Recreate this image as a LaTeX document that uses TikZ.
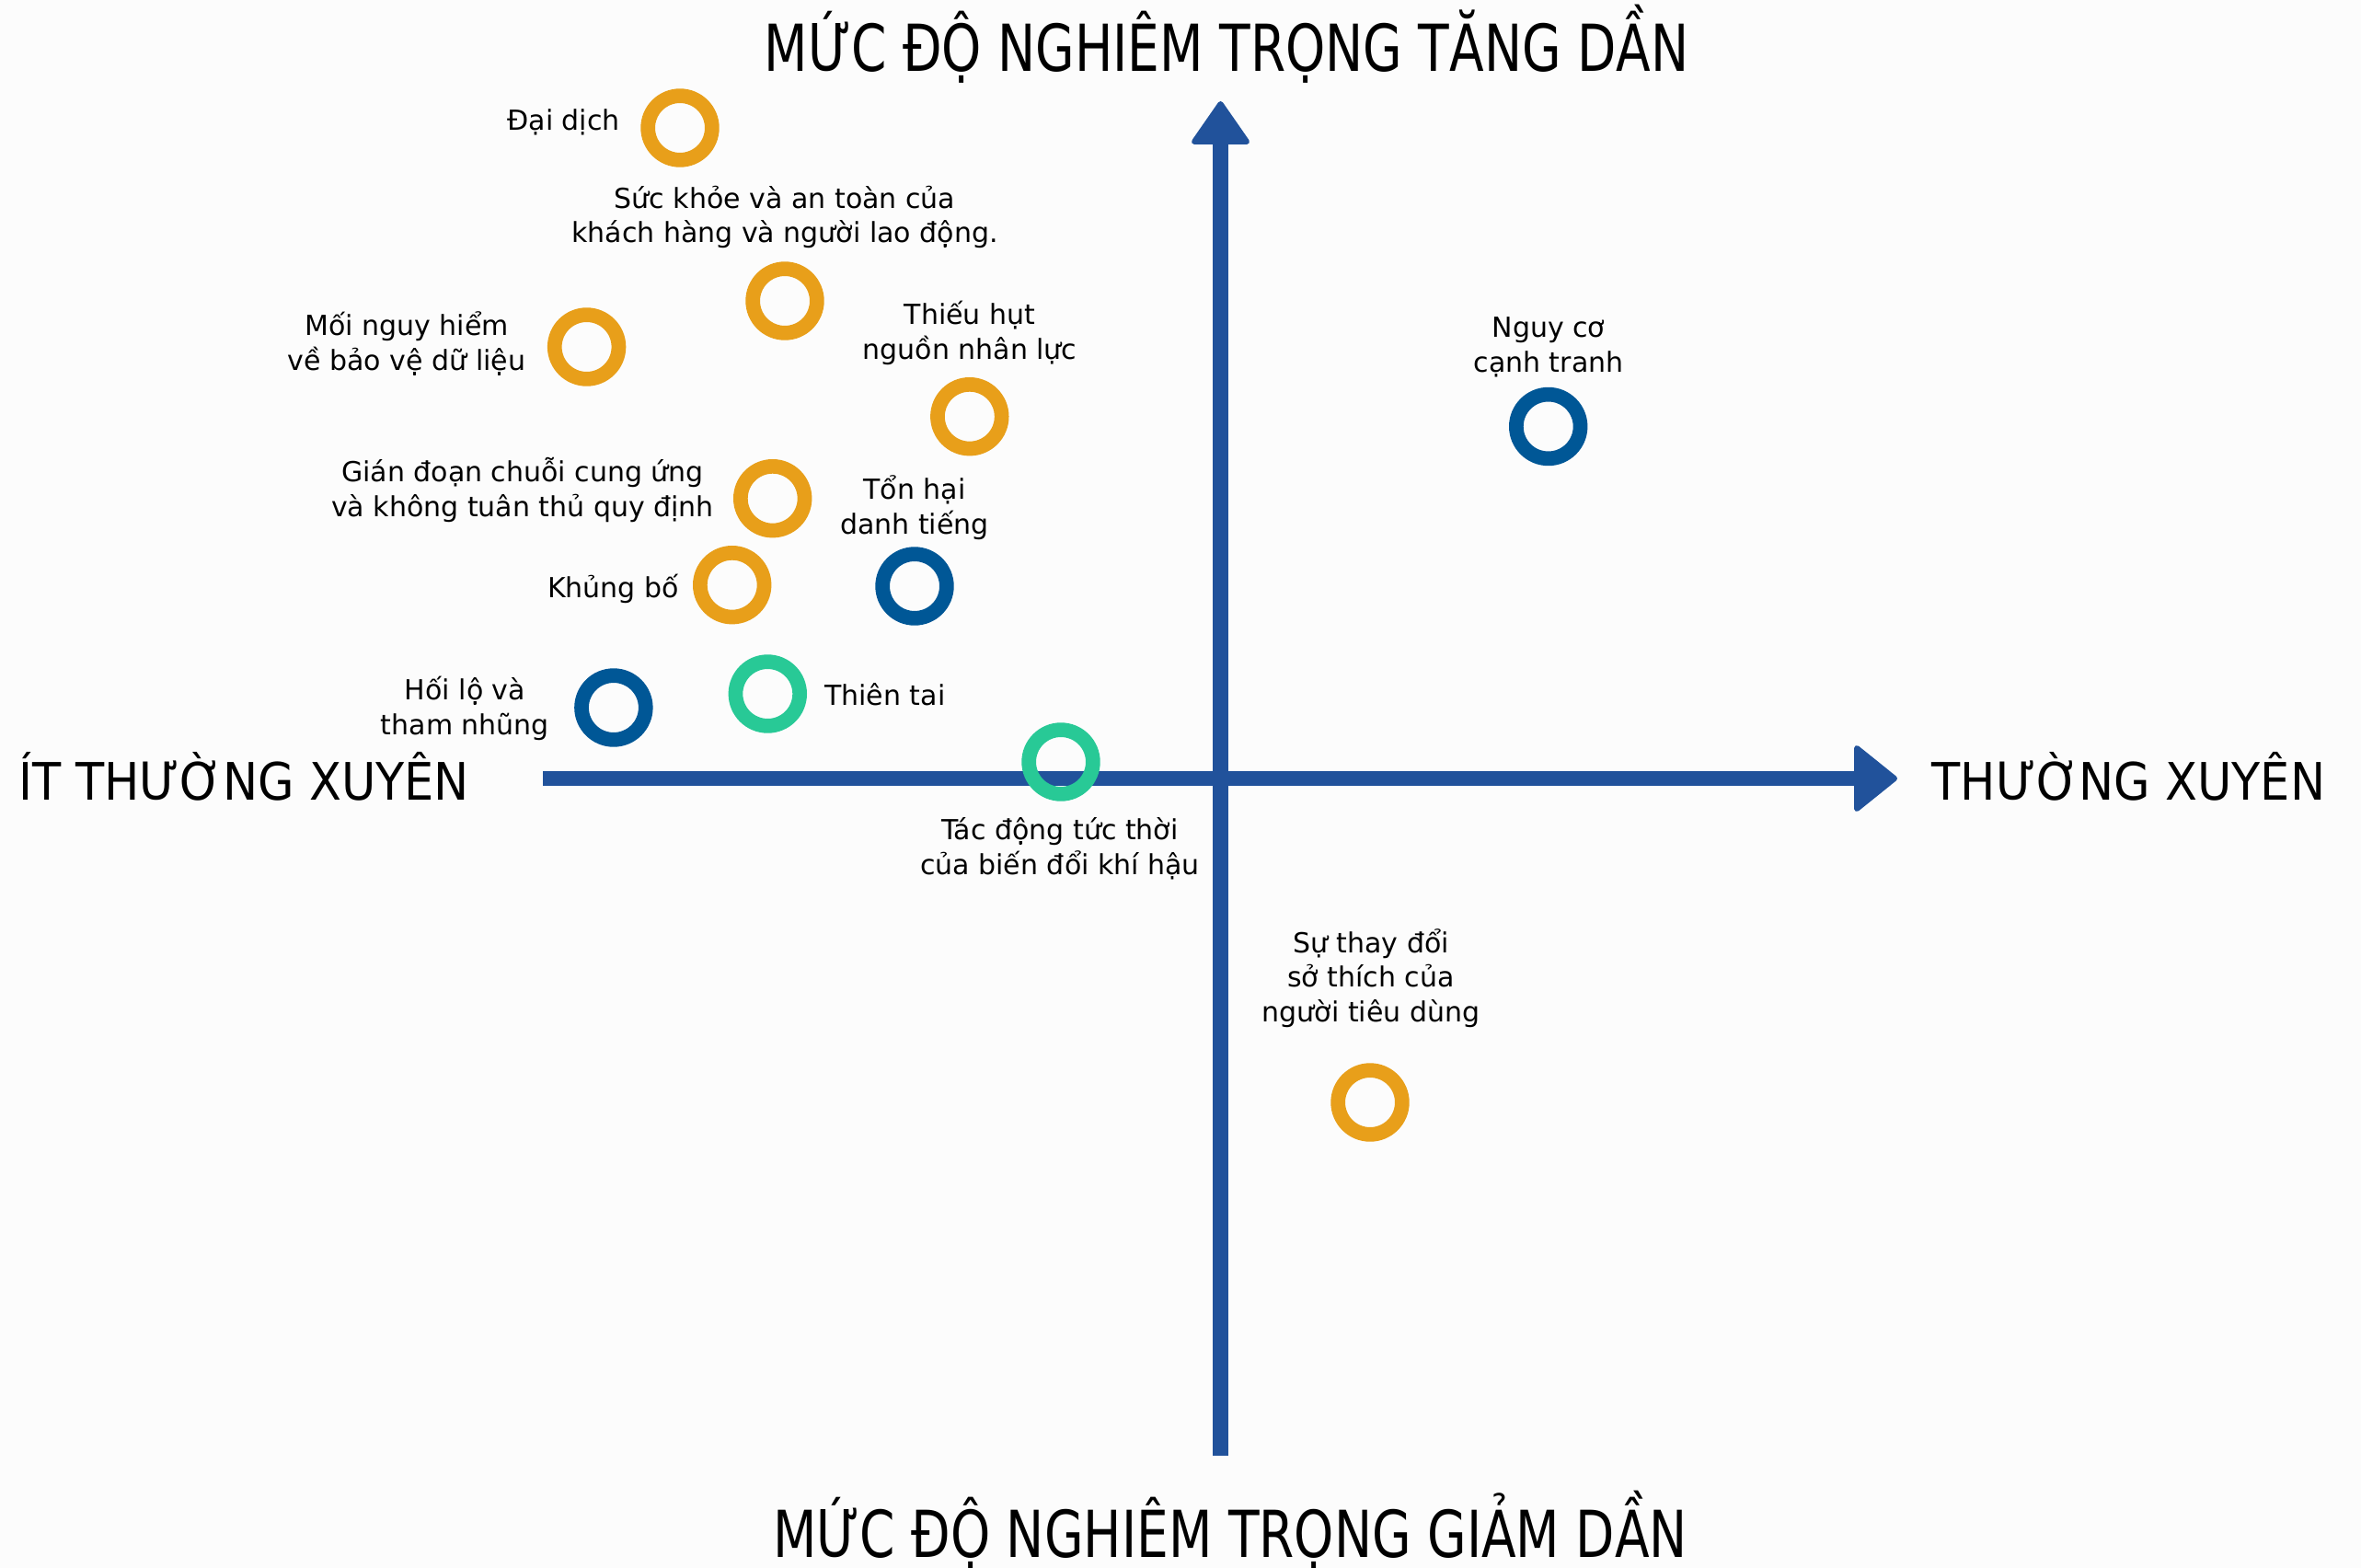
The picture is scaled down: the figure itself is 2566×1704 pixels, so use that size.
\documentclass[tikz,border=0pt]{standalone}
\usepackage{fontspec}
\setmainfont{DejaVu Sans}
\usepackage{graphicx}
\definecolor{bgcol}{RGB}{252,252,252}
\definecolor{axiscol}{RGB}{33,82,155}
\definecolor{ringorange}{RGB}{232,159,26}
\definecolor{ringblue}{RGB}{0,87,150}
\definecolor{ringgreen}{RGB}{40,201,150}
\begin{document}
\begin{tikzpicture}[x=1pt,y=-1pt,
  ring/.style={circle, draw=#1, line width=15.7pt, minimum size=69.7pt, inner sep=0pt, outer sep=0pt},
  lbl/.style={font=\fontsize{30}{37.5}\selectfont, inner sep=0pt, align=center, text=black},
  sidelbl/.style={font=\fontsize{51}{60}\selectfont, inner sep=0pt, text=black},
  titlelbl/.style={font=\fontsize{55}{60}\selectfont, inner sep=0pt, text=black},
  axisline/.style={draw=axiscol, line width=16.5pt, line cap=butt},
  axishead/.style={fill=axiscol, draw=axiscol, line width=6pt, line join=round}
]
\fill[bgcol] (0,0) rectangle (2566,1704);
\useasboundingbox (0,0) rectangle (2566,1704);

% axes
\coordinate (xL) at (590,846);
\coordinate (xR) at (2020,846);
\coordinate (yB) at (1326.5,1582);
\coordinate (yT) at (1326.5,150);
\draw[axisline] (xL) -- (xR);
\draw[axisline] (yB) -- (yT);
\filldraw[axishead] (2018,813) -- (2059,846) -- (2018,879) -- cycle;
\filldraw[axishead] (1298,154) -- (1326.5,113) -- (1355,154) -- cycle;

% axis titles
\node[titlelbl, anchor=base] (ttop) at (1333,78) {\scalebox{1}[1.28]{MỨC ĐỘ NGHIÊM TRỌNG TĂNG DẦN}};
\node[titlelbl, anchor=base] (tbot) at (1337,1692) {\scalebox{1}[1.28]{MỨC ĐỘ NGHIÊM TRỌNG GIẢM DẦN}};
\node[sidelbl, anchor=base] (tleft) at (265,869) {\scalebox{1}[1.1]{ÍT THƯỜNG XUYÊN}};
\node[sidelbl, anchor=base] (tright) at (2313.5,869) {\scalebox{1}[1.1]{THƯỜNG XUYÊN}};

% rings
\node[ring=ringorange] (cdai) at (739,139) {};
\node[ring=ringorange] (csuc) at (853,327) {};
\node[ring=ringorange] (cmoi) at (637.6,377) {};
\node[ring=ringorange] (cthieu) at (1053.8,452.7) {};
\node[ring=ringblue] (cnguy) at (1682.7,463.5) {};
\node[ring=ringorange] (cgian) at (839.7,541.7) {};
\node[ring=ringorange] (ckhung) at (795.7,635.7) {};
\node[ring=ringblue] (cton) at (994,637) {};
\node[ring=ringgreen] (cthien) at (834.3,754) {};
\node[ring=ringblue] (choi) at (666.9,769) {};
\node[ring=ringgreen] (ctac) at (1153,828) {};
\node[ring=ringorange] (csu) at (1489,1198) {};

% labels (base anchor = baseline of the last line)
\node[lbl, anchor=base east] (ldai) at (674,142) {Đại dịch};
\node[lbl, anchor=base] (lsuc) at (853,264) {Sức khỏe và an toàn của\\khách hàng và người lao động.};
\node[lbl, anchor=base] (lmoi) at (442,402) {Mối nguy hiểm\\về bảo vệ dữ liệu};
\node[lbl, anchor=base] (lthieu) at (1054,390) {Thiếu hụt\\nguồn nhân lực};
\node[lbl, anchor=base] (lnguy) at (1683,404) {Nguy cơ\\cạnh tranh};
\node[lbl, anchor=base] (lgian) at (568,561) {Gián đoạn chuỗi cung ứng\\và không tuân thủ quy định};
\node[lbl, anchor=base] (lton) at (994,580) {Tổn hại\\danh tiếng};
\node[lbl, anchor=base east] (lkhung) at (738,649) {Khủng bố};
\node[lbl, anchor=base] (lhoi) at (505.5,798) {Hối lộ và\\tham nhũng};
\node[lbl, anchor=base west] (lthien) at (896,766) {Thiên tai};
\node[lbl, anchor=base] (ltac) at (1152,950) {Tác động tức thời\\của biến đổi khí hậu};
\node[lbl, anchor=base] (lsu) at (1490,1110) {Sự thay đổi\\sở thích của\\người tiêu dùng};
\end{tikzpicture}
\end{document}
